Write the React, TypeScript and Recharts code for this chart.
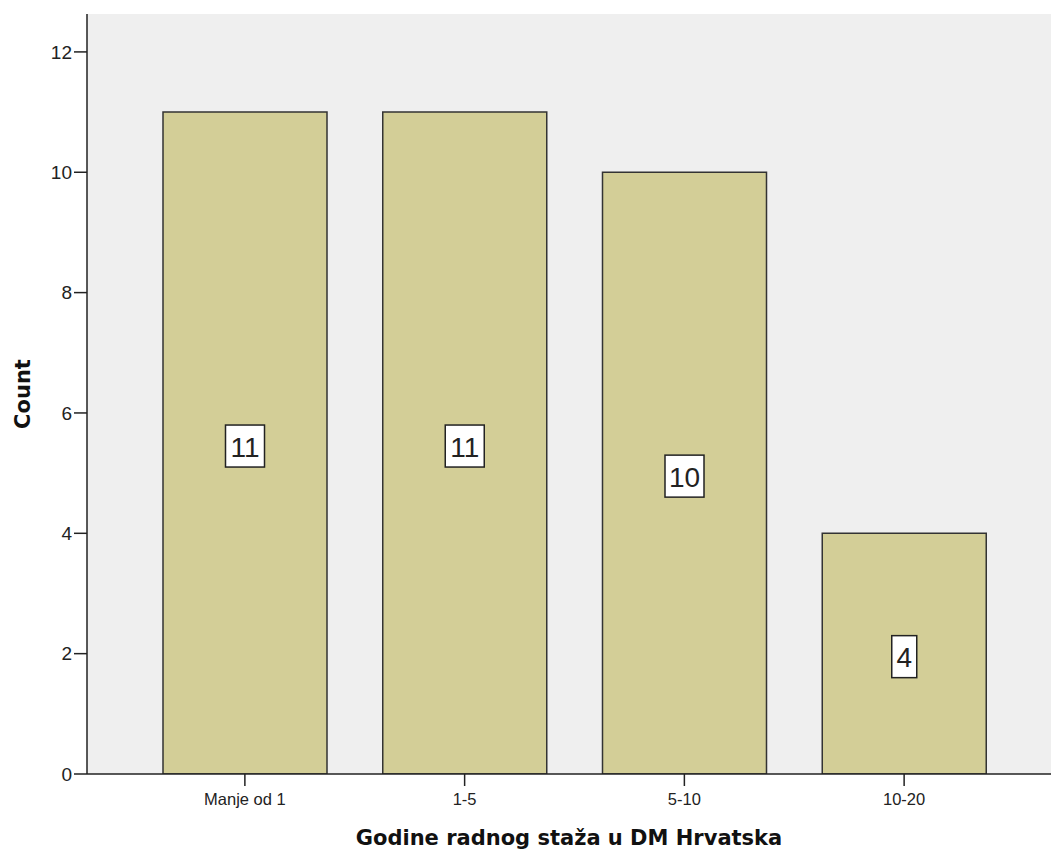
import { Bar, BarChart, CartesianGrid, LabelList, XAxis, YAxis } from "recharts";

const categories = ["Manje od 1", "1-5", "5-10", "10-20"];
const counts = [11, 11, 10, 4];
const yTicks = [0, 2, 4, 6, 8, 10, 12];

const data = categories.map((label, i) => ({ label, count: counts[i] }));

const font = "Arial, 'Liberation Sans', sans-serif";
const titleFont = "'DejaVu Sans', Verdana, sans-serif";

function ValueBox(props: any) {
  const { x, y, width, height, value } = props;
  const text = String(value);
  const w = text.length > 1 ? 39 : 25;
  const h = 42;
  const cx = x + width / 2;
  const cy = y + height / 2 + 3;
  return (
    <g>
      <rect
        x={cx - w / 2}
        y={cy - h / 2}
        width={w}
        height={h}
        fill="#ffffff"
        stroke="#222"
        strokeWidth={1.5}
      />
      <text
        x={cx}
        y={cy + 1}
        textAnchor="middle"
        dominantBaseline="central"
        fontFamily={font}
        fontSize={28}
        fill="#222"
      >
        {text}
      </text>
    </g>
  );
}

export default function App() {
  return (
    <div style={{ position: "absolute", left: 0, top: 0, width: 1051, height: 852, background: "#fff" }}>
      <BarChart
        width={1051}
        height={852}
        data={data}
        margin={{ top: 14, right: 0, bottom: 0, left: 0 }}
      >
        <CartesianGrid fill="#efefef" horizontal={false} vertical={false} />
        <XAxis
          xAxisId="top"
          orientation="top"
          dataKey="label"
          tick={false}
          tickLine={false}
          height={0}
          axisLine={{ stroke: "#8a8a8a", strokeWidth: 3 }}
        />
        <XAxis
          dataKey="label"
          padding={{ left: 48, right: 37 }}
          axisLine={{ stroke: "#222", strokeWidth: 1.5 }}
          tickLine={{ stroke: "#222", strokeWidth: 1.5 }}
          tickSize={12}
          tickMargin={7}
          tick={{ fontSize: 16.5, fill: "#222", fontFamily: font }}
          height={78}
          label={{
            value: "Godine radnog staža u DM Hrvatska",
            position: "insideBottom",
            offset: 7,
            style: { fontSize: 21, fontWeight: "bold", fill: "#111", fontFamily: titleFont },
          }}
        />
        <YAxis
          domain={[0, 12.63]}
          ticks={yTicks}
          allowDataOverflow
          width={87}
          axisLine={{ stroke: "#222", strokeWidth: 1.5 }}
          tickLine={{ stroke: "#222", strokeWidth: 1.5 }}
          tickSize={13}
          tickMargin={2}
          tick={{ fontSize: 19, fill: "#222", fontFamily: font }}
          label={{
            value: "Count",
            angle: -90,
            position: "insideLeft",
            offset: 23,
            style: { fontSize: 21, fontWeight: "bold", fill: "#111", fontFamily: titleFont, textAnchor: "middle" },
          }}
        />
        <Bar
          dataKey="count"
          fill="#d3ce97"
          stroke="#333"
          strokeWidth={1.5}
          barSize={164}
          isAnimationActive={false}
        >
          <LabelList dataKey="count" content={ValueBox} />
        </Bar>
      </BarChart>
    </div>
  );
}
